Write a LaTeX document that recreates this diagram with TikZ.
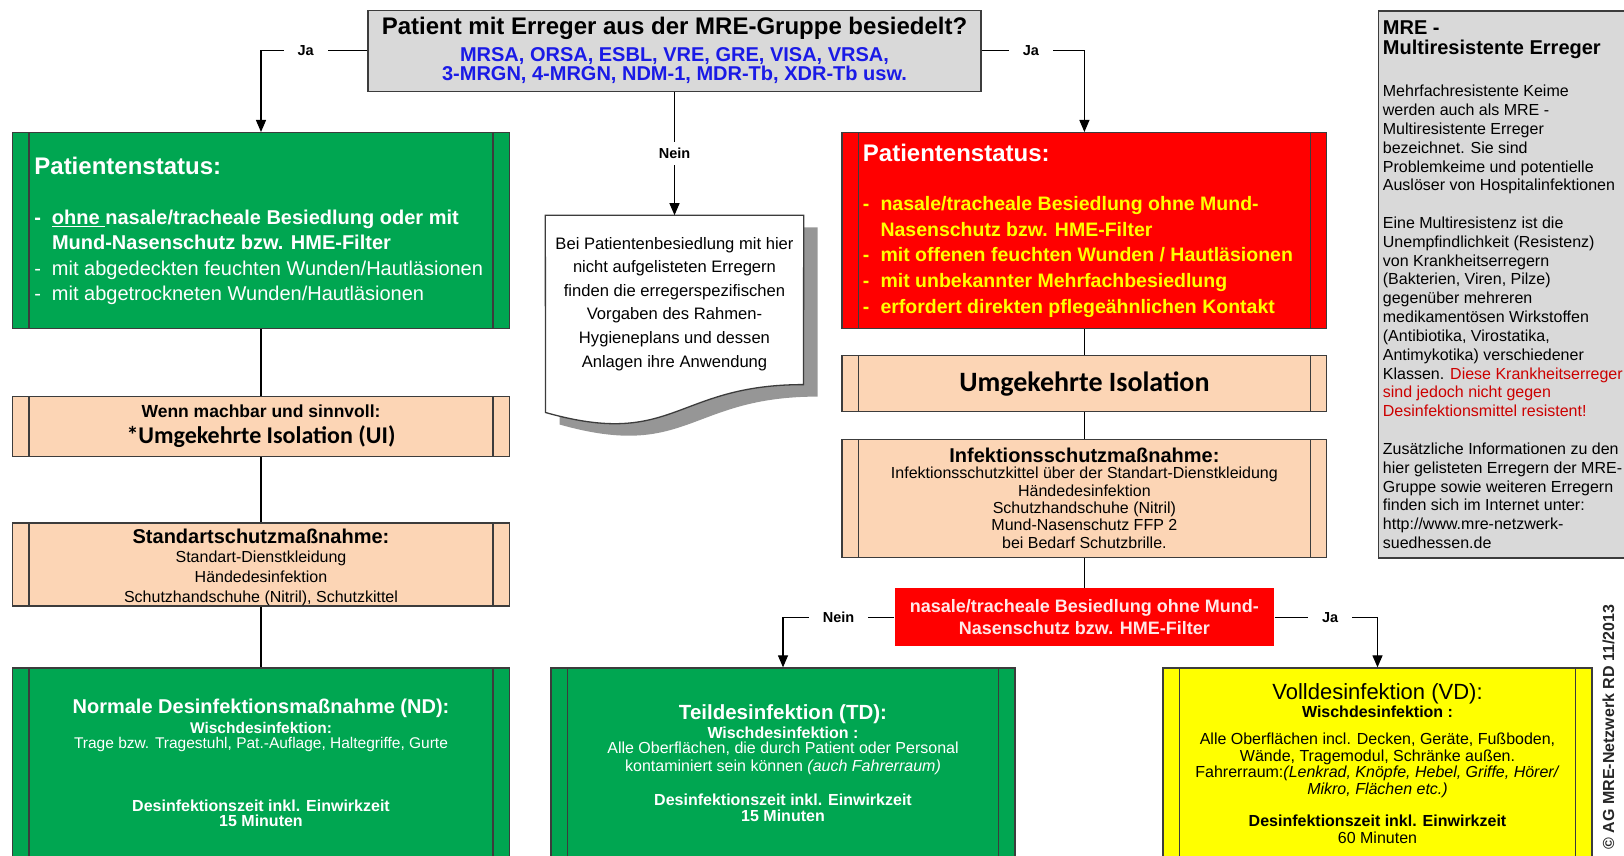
\documentclass[tikz,border=0pt]{standalone}
\usepackage{fontspec}
\setmainfont{Liberation Sans}
\newfontfamily\calibri{Carlito}
\usepackage{tikz}
\usetikzlibrary{arrows.meta, calc}

\definecolor{mregrau}{RGB}{217,217,217}
\definecolor{mregruen}{RGB}{0,166,81}
\definecolor{mrerot}{RGB}{255,0,0}
\definecolor{mrepfirsich}{RGB}{252,213,181}
\definecolor{mregelb}{RGB}{255,255,0}
\definecolor{mreblau}{RGB}{26,26,230}
\definecolor{mrerahmen}{RGB}{60,60,60}
\definecolor{hinweisrot}{RGB}{204,0,0}
\definecolor{entscheidtext}{RGB}{255,232,232}
\definecolor{schatten}{RGB}{150,150,150}

\newcommand{\listenstrich}[1]{\makebox[17.6pt][l]{-}#1}

\tikzset{
  kasten/.style={rectangle, draw=mrerahmen, line width=1.3pt, inner sep=0pt},
  prozess/.style={kasten, path picture={\draw[mrerahmen, line width=1.3pt]
      ([xshift=16.5pt]path picture bounding box.north west) -- ([xshift=16.5pt]path picture bounding box.south west)
      ([xshift=-16.5pt]path picture bounding box.north east) -- ([xshift=-16.5pt]path picture bounding box.south east);}},
  verbinder/.style={line width=1.2pt, black},
  pfeil/.style={verbinder, -{Triangle[length=12pt,width=10pt]}},
  janeinH/.style={fill=white, inner xsep=14pt, inner ysep=3pt, font=\fontsize{14.5}{16}\selectfont\bfseries},
  janeinV/.style={fill=white, inner xsep=3pt, inner ysep=6pt, font=\fontsize{14.5}{16}\selectfont\bfseries},
  txt/.style={inner sep=0pt},
  weiss/.style={txt, text=white}
}

\begin{document}
\begin{tikzpicture}[x=1pt,y=1pt,yscale=-1,xscale=1]
	\useasboundingbox (0,0) rectangle (1624,856);
	\clip (0,0) rectangle (1624,856);

	%Shape: Rectangle
	\node[kasten, fill=mregrau, minimum width=613pt, minimum height=81pt] (frage) at (674.5,50.8) {};
	%Shape: Rectangle
	\node[kasten, fill=mregrau, minimum width=260pt, minimum height=546.8pt, anchor=north west] (info) at (1377.5,10.4) {};
	%Shape: Predefined Process
	\node[prozess, fill=mregruen, minimum width=497.2pt, minimum height=195.7pt] (statusLinks) at (261,230.5) {};
	\node[prozess, fill=mrepfirsich, minimum width=497.2pt, minimum height=60pt] (isoLinks) at (261,426.7) {};
	\node[prozess, fill=mrepfirsich, minimum width=497.2pt, minimum height=82.9pt] (standard) at (261,564.5) {};
	\node[prozess, fill=mregruen, minimum width=497.2pt, minimum height=200pt] (nd) at (261,768) {};
	%Shape: Predefined Process
	\node[prozess, fill=mrerot, minimum width=484.7pt, minimum height=195.7pt] (statusRechts) at (1084.4,230.5) {};
	\node[prozess, fill=mrepfirsich, minimum width=484.7pt, minimum height=56pt] (isoRechts) at (1084.4,383.2) {};
	\node[prozess, fill=mrepfirsich, minimum width=484.7pt, minimum height=118.1pt] (infektion) at (1084.4,498.2) {};
	\node[prozess, fill=mregruen, minimum width=464pt, minimum height=200pt] (td) at (783,768) {};
	\node[prozess, fill=mregelb, minimum width=429pt, minimum height=200pt] (vd) at (1377.5,768) {};
	%Shape: Rectangle
	\node[kasten, draw=none, fill=mrerot, minimum width=379pt, minimum height=58pt] (entscheidung) at (1084.4,617.3) {};

	%Shape: Document
	\node[txt, minimum width=258pt, minimum height=211pt] (hinweis) at (674.5,320.9) {};
	\fill[schatten] (559.5,227.4) -- (817.5,227.4) -- (817.5,396.6) .. controls (688.5,396.6) and (688.5,461) .. (559.5,424.5) -- cycle;
	\draw[mrerahmen, line width=1.3pt, fill=white] (hinweis.north west) -- (hinweis.north east) -- (803.5,384.6) .. controls (674.5,384.6) and (674.5,449) .. (545.5,412.5) -- cycle;

	%Straight Lines
	\draw[pfeil] (frage.west) -| node[janeinH, pos=0.29] {Ja} (statusLinks.north);
	\draw[pfeil] (frage.east) -| node[janeinH, pos=0.24] {Ja} (statusRechts.north);
	\draw[pfeil] (frage.south) -- node[janeinV] {Nein} (hinweis.north);
	\draw[verbinder] (statusLinks) -- (isoLinks);
	\draw[verbinder] (isoLinks) -- (standard);
	\draw[verbinder] (standard) -- (nd);
	\draw[verbinder] (statusRechts) -- (isoRechts);
	\draw[verbinder] (isoRechts) -- (infektion);
	\draw[verbinder] (infektion) -- (entscheidung);
	\draw[pfeil] (entscheidung.west) -| node[janeinH, pos=0.25] {Nein} (td.north);
	\draw[pfeil] (entscheidung.east) -| node[janeinH, pos=0.27] {Ja} (vd.north);

	% Text Node
	\node[txt, font=\fontsize{24}{28}\selectfont\bfseries] (frageTitel) at (674.5,28) {Patient mit Erreger aus der MRE-Gruppe besiedelt?};
	% Text Node
	\node[txt, text=mreblau, align=center, anchor=north, font=\fontsize{20}{19.6}\selectfont\bfseries] (frageListe) at (674.5,47.2) {MRSA, ORSA, ESBL, VRE, GRE, VISA, VRSA,\\3-MRGN, 4-MRGN, NDM-1, MDR-Tb, XDR-Tb usw.};
	% Text Node
	\node[txt, font=\fontsize{16.6}{23.6}\selectfont, align=center, anchor=north] (hinweisText) at (674.5,236.9) {Bei Patientenbesiedlung mit hier\\nicht aufgelisteten Erregern\\finden die erregerspezifischen\\Vorgaben des Rahmen-\\Hygieneplans und dessen\\Anlagen ihre Anwendung};

	% Text Node
	\node[weiss, anchor=west, font=\fontsize{24}{28}\selectfont\bfseries] (statusLinksTitel) at (34.2,165.7) {Patientenstatus:};
	% Text Node
	\node[weiss, anchor=north west, align=left, font=\fontsize{20}{25.5}\selectfont] (statusLinksListe) at (34.2,209.7) {{\bfseries\listenstrich{\underline{ohne\ }nasale/tracheale Besiedlung oder mit}}\\{\bfseries\hspace*{17.6pt}Mund-Nasenschutz bzw. HME-Filter}\\\listenstrich{mit abgedeckten feuchten Wunden/Hautläsionen}\\\listenstrich{mit abgetrockneten Wunden/Hautläsionen}};
	% Text Node
	\node[txt, font=\fontsize{17.5}{20}\selectfont\bfseries] (isoLinksKopf) at (261,411.2) {Wenn machbar und sinnvoll:};
	% Text Node
	\node[txt, font=\fontsize{24}{28}\selectfont\calibri\bfseries] (isoLinksText) at (261,437) {*Umgekehrte Isolation (UI)};
	% Text Node
	\node[txt, font=\fontsize{20}{24}\selectfont\bfseries] (standardKopf) at (261,536.5) {Standartschutzmaßnahme:};
	% Text Node
	\node[txt, align=center, anchor=north, font=\fontsize{16}{19.7}\selectfont] (standardText) at (261,551) {Standart-Dienstkleidung\\Händedesinfektion\\Schutzhandschuhe (Nitril), Schutzkittel};
	% Text Node
	\node[weiss, font=\fontsize{20}{24}\selectfont\bfseries] (ndKopf) at (261,708.4) {Normale Desinfektionsmaßnahme (ND):};
	% Text Node
	\node[weiss, align=center, anchor=north, font=\fontsize{15.5}{15.5}\selectfont] (ndText) at (261,721.9) {{\bfseries Wischdesinfektion:}\\Trage bzw. Tragestuhl, Pat.-Auflage, Haltegriffe, Gurte};
	% Text Node
	\node[weiss, align=center, anchor=north, font=\fontsize{16}{15.5}\selectfont\bfseries] (ndZeit) at (261,799.6) {Desinfektionszeit inkl. Einwirkzeit\\15 Minuten};

	% Text Node
	\node[weiss, anchor=west, font=\fontsize{24}{28}\selectfont\bfseries] (statusRechtsTitel) at (862.7,153.3) {Patientenstatus:};
	% Text Node
	\node[txt, text=mregelb, anchor=north west, align=left, font=\fontsize{19.5}{25.6}\selectfont\bfseries] (statusRechtsListe) at (862.7,196.4) {\listenstrich{nasale/tracheale Besiedlung ohne Mund-}\\\hspace*{17.6pt}Nasenschutz bzw. HME-Filter\\\listenstrich{mit offenen feuchten Wunden / Hautläsionen}\\\listenstrich{mit unbekannter Mehrfachbesiedlung}\\\listenstrich{erfordert direkten pflegeähnlichen Kontakt}};
	% Text Node
	\node[txt, font=\fontsize{28}{32}\selectfont\calibri\bfseries] (isoRechtsText) at (1084.4,384.3) {Umgekehrte Isolation};
	% Text Node
	\node[txt, font=\fontsize{20}{24}\selectfont\bfseries] (infektionKopf) at (1084.4,455.7) {Infektionsschutzmaßnahme:};
	% Text Node
	\node[txt, align=center, anchor=north, font=\fontsize{16}{17.35}\selectfont] (infektionText) at (1084.4,467.1) {Infektionsschutzkittel über der Standart-Dienstkleidung\\Händedesinfektion\\Schutzhandschuhe (Nitril)\\Mund-Nasenschutz FFP 2\\bei Bedarf Schutzbrille.};
	% Text Node
	\node[txt, text=entscheidtext, align=center, anchor=north, font=\fontsize{18}{22.8}\selectfont\bfseries] (entscheidungText) at (1084.4,598.9) {nasale/tracheale Besiedlung ohne Mund-\\Nasenschutz bzw. HME-Filter};

	% Text Node
	\node[weiss, font=\fontsize{20.5}{24}\selectfont\bfseries] (tdKopf) at (783,714.6) {Teildesinfektion (TD):};
	% Text Node
	\node[weiss, align=center, anchor=north, font=\fontsize{16}{14.5}\selectfont] (tdText) at (783,727.1) {{\bfseries Wischdesinfektion :}\\Alle Oberflächen, die durch Patient oder Personal};
	% Text Node
	\node[weiss, font=\fontsize{16}{18}\selectfont] (tdText2) at (783,767.5) {kontaminiert sein können \textit{(auch Fahrerraum)}};
	% Text Node
	\node[weiss, align=center, anchor=north, font=\fontsize{16}{16.5}\selectfont\bfseries] (tdZeit) at (783,793.4) {Desinfektionszeit inkl. Einwirkzeit\\15 Minuten};

	% Text Node
	\node[txt, font=\fontsize{22}{26}\selectfont] (vdKopf) at (1377.5,694) {Volldesinfektion (VD):};
	% Text Node
	\node[txt, font=\fontsize{16}{18}\selectfont\bfseries] (vdWisch) at (1377.5,711.5) {Wischdesinfektion :};
	% Text Node
	\node[txt, align=center, anchor=north, font=\fontsize{16}{16.6}\selectfont] (vdText) at (1377.5,732.6) {Alle Oberflächen incl. Decken, Geräte, Fußboden,\\Wände, Tragemodul, Schränke außen.\\Fahrerraum:\textit{(Lenkrad, Knöpfe, Hebel, Griffe, Hörer/}\\\textit{Mikro, Flächen etc.)}};
	% Text Node
	\node[txt, align=center, anchor=north, font=\fontsize{16}{16.6}\selectfont] (vdZeit) at (1377.5,815.1) {{\bfseries Desinfektionszeit inkl. Einwirkzeit}\\60 Minuten};

	% Text Node
	\node[txt, anchor=north west, align=left, font=\fontsize{20}{20.7}\selectfont\bfseries] (infoKopf) at (1382.7,20.2) {MRE -\\Multiresistente Erreger};
	% Text Node
	\node[txt, anchor=north west, align=left, font=\fontsize{16}{18.83}\selectfont] (infoText) at (1382.7,84.9) {Mehrfachresistente Keime\\werden auch als MRE -\\Multiresistente Erreger\\bezeichnet. Sie sind\\Problemkeime und potentielle\\Auslöser von Hospitalinfektionen\\[18.83pt]Eine Multiresistenz ist die\\Unempfindlichkeit (Resistenz)\\von Krankheitserregern\\(Bakterien, Viren, Pilze)\\gegenüber mehreren\\medikamentösen Wirkstoffen\\(Antibiotika, Virostatika,\\Antimykotika) verschiedener\\Klassen. \textcolor{hinweisrot}{Diese Krankheitserreger}\\\textcolor{hinweisrot}{sind jedoch nicht gegen}\\\textcolor{hinweisrot}{Desinfektionsmittel resistent!}\\[18.83pt]Zusätzliche Informationen zu den\\hier gelisteten Erregern der MRE-\\Gruppe sowie weiteren Erregern\\finden sich im Internet unter:\\http://www.mre-netzwerk-\\suedhessen.de};

	% Text Node
	\node[txt, rotate=90, text=black!85, font=\fontsize{16}{18}\selectfont\bfseries] (copyright) at (1608.5,727) {© AG MRE-Netzwerk RD 11/2013};
\end{tikzpicture}
\end{document}
